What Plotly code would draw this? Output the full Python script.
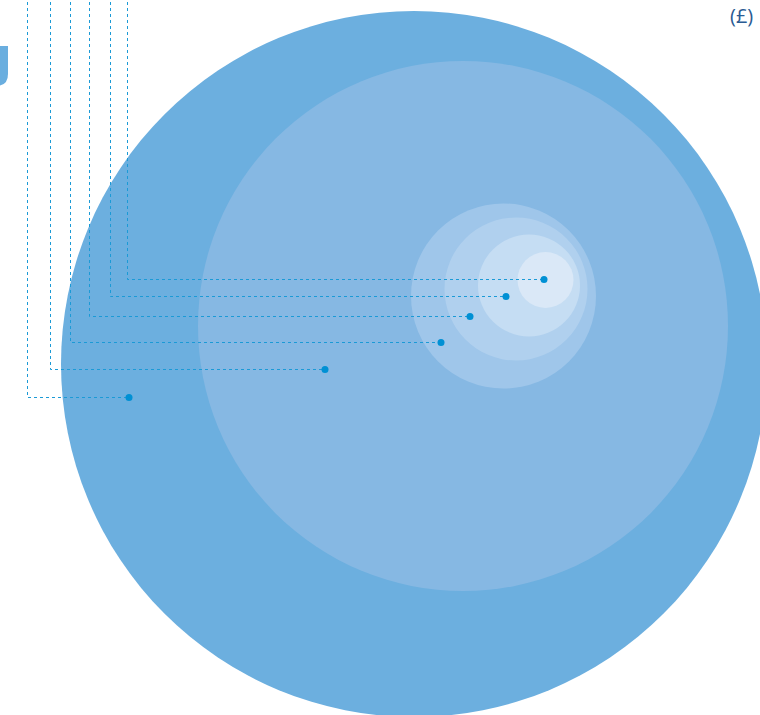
import plotly.graph_objects as go

W, H = 760, 715

# Nested circles: centre x, centre y, radius (in pixel-like units), fill colour
circle_cx = [414, 463, 503.5, 516, 529, 545.5]
circle_cy = [364, 326, 296, 289, 285.5, 280]
circle_r = [353, 265, 92.5, 71.5, 51, 28]
circle_col = ["#6cafdf", "#86b8e3", "#9fc6ea", "#b0d0ee", "#c5ddf3", "#dae8f7"]

# Leader lines: vertical x, marker point x, marker point y
leader_x = [27, 50, 70, 89, 110, 127]
dot_x = [129, 325, 441, 470, 506, 544]
dot_y = [397, 369, 342, 316, 296, 279]

label_text = "(£)"

fig = go.Figure()

shapes = []
for cx, cy, r, c in zip(circle_cx, circle_cy, circle_r, circle_col):
    shapes.append(dict(type="circle", xref="x", yref="y",
                       x0=cx - r, x1=cx + r, y0=cy - r, y1=cy + r,
                       fillcolor=c, line=dict(width=0), layer="below"))

# partial rounded shape at top-left edge
shapes.append(dict(type="path", xref="x", yref="y",
                   path="M -20,46 L 8,46 L 8,74 Q 8,86 -4,86 L -20,86 Z",
                   fillcolor="#6aaedf", line=dict(width=0), layer="below"))

H_ = 0.5  # half-pixel for crisp 1px lines
for lx, dx, dy in zip(leader_x, dot_x, dot_y):
    fig.add_trace(go.Scatter(x=[lx + H_, lx + H_, dx], y=[-10, dy + H_, dy + H_],
                             mode="lines",
                             line=dict(color="#1b9ad6", width=1, dash="dot"),
                             hoverinfo="skip", showlegend=False))

fig.add_trace(go.Scatter(x=dot_x, y=[v + H_ for v in dot_y], mode="markers",
                         marker=dict(color="#0090d4", size=7, line=dict(width=0)),
                         hoverinfo="skip", showlegend=False))

fig.add_annotation(x=755, y=15, xref="x", yref="y", text=label_text,
                   showarrow=False, xanchor="right", yanchor="middle",
                   font=dict(family="Open Sans", size=20, color="#2a5b93"))

fig.update_layout(
    width=W, height=H, margin=dict(l=0, r=0, t=0, b=0),
    paper_bgcolor="white", plot_bgcolor="white",
    shapes=shapes,
    xaxis=dict(range=[0, W], visible=False, fixedrange=True),
    yaxis=dict(range=[H, 0], visible=False, fixedrange=True),
    showlegend=False,
)

fig.write_html("out.html", config={"displayModeBar": False},
               post_script="document.body.style.margin='0';document.body.style.overflow='hidden';")
